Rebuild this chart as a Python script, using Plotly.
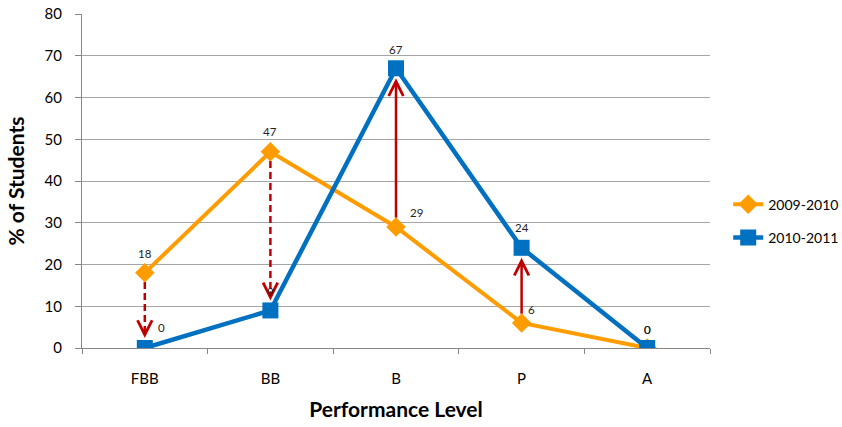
import plotly.graph_objects as go

categories = ["FBB", "BB", "B", "P", "A"]
series_2009 = [18, 47, 29, 6, 0]
series_2010 = [0, 9, 67, 24, 0]
series_names = ["2009-2010", "2010-2011"]
y_ticks = [0, 10, 20, 30, 40, 50, 60, 70, 80]

# label offsets (pixels) for data labels: (xshift, yshift)
off_2009 = [(0, 19), (0, 20), (20, 14), (10, 13), (0, 19)]
off_2010 = [(17, 21), (0, 19), (0, 19), (0, 20), (0, 19)]

# change arrows: (category, from value, to value, dashed)
arrows = [("FBB", 18, 0, True), ("BB", 47, 9, True), ("B", 29, 67, False), ("P", 6, 24, False)]

ORANGE = "#FF9C00"
BLUE = "#0070C0"
RED = "#C00000"
FONT = "Lato"

fig = go.Figure()

# arrow shafts
for cat, y0, y1, dashed in arrows:
    sgn = 1 if y1 > y0 else -1
    start = y0 + sgn * 2.2
    tip = y1 - sgn * 2.4
    fig.add_trace(go.Scatter(x=[cat, cat], y=[start, tip - sgn * 1.0], mode="lines",
                             line=dict(color=RED, width=2.5, dash="7px,4px" if dashed else "solid"),
                             showlegend=False, hoverinfo="skip"))
    fig.add_annotation(x=cat, y=tip, ax=cat, ay=tip - sgn * 2.5, xref="x", yref="y",
                       axref="x", ayref="y", showarrow=True, arrowhead=5, arrowsize=1.3,
                       arrowwidth=2.2, arrowcolor=RED, text="", standoff=0)

fig.add_trace(go.Scatter(x=categories, y=series_2009, mode="lines+markers", name=series_names[0],
                         legendgroup="a",
                         line=dict(color=ORANGE, width=4),
                         marker=dict(symbol="diamond", size=15, color=ORANGE)))
fig.add_trace(go.Scatter(x=categories, y=series_2010, mode="lines+markers", name=series_names[1],
                         legendgroup="b",
                         line=dict(color=BLUE, width=4.5),
                         marker=dict(symbol="square", size=16, color=BLUE)))

for vals, offs in ((series_2009, off_2009), (series_2010, off_2010)):
    for c, v, (dx, dy) in zip(categories, vals, offs):
        fig.add_annotation(x=c, y=v, text=str(v), showarrow=False, xshift=dx, yshift=dy,
                           font=dict(family=FONT, size=11.5, color="#222222"))

fig.update_layout(
    width=842, height=427,
    margin=dict(l=82, r=132, t=14, b=79, autoexpand=False),
    plot_bgcolor="white", paper_bgcolor="white",
    font=dict(family=FONT, color="#000000"),
    legend=dict(x=1.029, y=0.38, xanchor="left", yanchor="middle",
                font=dict(family=FONT, size=14, color="#000000"),
                traceorder="grouped", tracegroupgap=12),
    showlegend=True,
)
fig.update_xaxes(type="category", range=[-0.5, 4.5], categoryorder="array", categoryarray=categories,
                 showline=True, linecolor="#868686", linewidth=1,
                 ticks="outside", tickson="boundaries", ticklen=5, tickcolor="#868686",
                 showgrid=False, tickfont=dict(family=FONT, size=15, color="#000000"),
                 ticklabelstandoff=17,
                 title=dict(text="<b>Performance Level</b>", font=dict(family=FONT, size=21), standoff=16))
fig.update_yaxes(range=[0, 80], tickvals=y_ticks, showline=True, linecolor="#868686", linewidth=1,
                 ticks="outside", ticklen=6, tickcolor="#868686",
                 showgrid=True, gridcolor="#A6A6A6", gridwidth=1, zeroline=False,
                 tickfont=dict(family=FONT, size=15, color="#000000"), ticklabelstandoff=10,
                 title=dict(text="<b>% of Students</b>", font=dict(family=FONT, size=21), standoff=14))

fig.write_html("out.html")
